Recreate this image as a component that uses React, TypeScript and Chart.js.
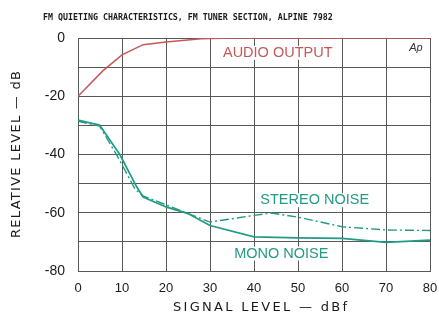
import React, { useEffect, useRef } from 'react';
import { Chart, registerables } from 'chart.js';

Chart.register(...registerables);

// ---- text ----
const chartTitle = 'FM QUIETING CHARACTERISTICS, FM TUNER SECTION, ALPINE 7982';
const xAxisTitle = 'SIGNAL LEVEL — dBf';
const yAxisTitle = 'RELATIVE LEVEL — dB';

// ---- tick values ----
const xTicks = [0, 10, 20, 30, 40, 50, 60, 70, 80];
const yTickLabels = [0, -20, -40, -60, -80];

// ---- series (signal level dBf -> relative level dB) ----
const audioX = [0, 5.7, 10, 14.8, 20, 28, 35, 80];
const audioY = [-20, -11.2, -5.8, -2.3, -1.4, -0.3, 0, 0];

const monoX = [0, 4.9, 9.5, 13.3, 14.8, 20, 25, 30, 40, 50, 60, 70, 80];
const monoY = [-28.2, -29.9, -40, -51, -54.6, -58, -60.3, -64.4, -68.3, -68.6, -68.8, -70.2, -69.4];

const stereoX = [0, 4.9, 9.3, 13, 14.8, 20, 30, 40, 44, 50, 60, 70, 80];
const stereoY = [-28.6, -30.2, -41.5, -52, -54.2, -57.3, -63.2, -60.9, -60.1, -61.5, -64.8, -65.9, -66.1];

// ---- in-chart labels ----
const labelTexts = ['AUDIO OUTPUT', 'STEREO NOISE', 'MONO NOISE'];
const labelAt = [
  { x: 45.4, y: -5.1 },
  { x: 53.8, y: -55.7 },
  { x: 46.2, y: -74 },
];

const RED = '#c4585a';
const TEAL = '#239a82';
const GRID = '#555a55';
const TEXT = '#1a1a1a';

const toPts = (xs: number[], ys: number[]) => xs.map((x, i) => ({ x, y: ys[i] }));

function spacedText(ctx: CanvasRenderingContext2D, text: string, cx: number, cy: number, targetW: number) {
  (ctx as any).letterSpacing = '0px';
  const w = ctx.measureText(text).width;
  const n = text.length;
  const sp = Math.max(0, (targetW - w) / (n - 1));
  (ctx as any).letterSpacing = sp + 'px';
  const w2 = ctx.measureText(text).width;
  ctx.textAlign = 'left';
  ctx.textBaseline = 'middle';
  ctx.fillText(text, cx - (w2 - sp) / 2, cy);
  (ctx as any).letterSpacing = '0px';
}

const overlay = {
  id: 'overlay',
  beforeDatasetsDraw(chart: any) {
    const { ctx, scales } = chart;
    const xs = scales.x;
    const ys = scales.y;
    ctx.save();
    ctx.font = '14.5px "Liberation Sans", Arial, sans-serif';
    ctx.textAlign = 'center';
    ctx.textBaseline = 'middle';
    labelTexts.forEach((t, i) => {
      const px = xs.getPixelForValue(labelAt[i].x);
      const py = ys.getPixelForValue(labelAt[i].y);
      const w = ctx.measureText(t).width;
      ctx.fillStyle = '#ffffff';
      ctx.fillRect(px - w / 2 - 3, py - 7, w + 6, 14);
      ctx.fillStyle = i === 0 ? RED : TEAL;
      ctx.fillText(t, px, py);
    });
    // Ap logo
    ctx.font = 'italic 11px "Liberation Sans", Arial, sans-serif';
    ctx.fillStyle = '#333';
    ctx.fillText('Ap', xs.getPixelForValue(76.8), ys.getPixelForValue(-3.3));
    ctx.restore();
  },
  afterDraw(chart: any) {
    const { ctx, chartArea } = chart;
    ctx.save();
    ctx.fillStyle = TEXT;
    // chart title
    ctx.font = 'bold 8.3px "DejaVu Sans Mono", monospace';
    ctx.textAlign = 'left';
    ctx.textBaseline = 'middle';
    ctx.fillText(chartTitle, 43, 18);
    // x axis title
    ctx.font = '13px "DejaVu Sans", sans-serif';
    spacedText(ctx, xAxisTitle, 260, 308, 174);
    // y axis title
    ctx.save();
    ctx.translate(17, (chartArea.top + chartArea.bottom) / 2);
    ctx.rotate(-Math.PI / 2);
    spacedText(ctx, yAxisTitle, 0, 0, 167);
    ctx.restore();
    ctx.restore();
  },
};

export default function App() {
  const ref = useRef<HTMLCanvasElement | null>(null);
  useEffect(() => {
    if (!ref.current) return;
    const chart = new Chart(ref.current, {
      type: 'line',
      data: {
        datasets: [
          {
            label: 'Audio output',
            data: toPts(audioX, audioY),
            borderColor: RED,
            borderWidth: 1.5,
            pointRadius: 0,
            tension: 0,
          },
          {
            label: 'Stereo noise',
            data: toPts(stereoX, stereoY),
            borderColor: TEAL,
            borderWidth: 1.4,
            borderDash: [9, 3, 2, 3],
            pointRadius: 0,
            tension: 0,
          },
          {
            label: 'Mono noise',
            data: toPts(monoX, monoY),
            borderColor: TEAL,
            borderWidth: 1.7,
            pointRadius: 0,
            tension: 0,
          },
        ],
      },
      options: {
        animation: false,
        responsive: true,
        maintainAspectRatio: false,
        layout: { padding: { top: 38, right: 9, left: 0, bottom: 0 } },
        plugins: {
          legend: { display: false },
          tooltip: { enabled: false },
          title: { display: false },
        },
        scales: {
          x: {
            type: 'linear',
            min: 0,
            max: 80,
            afterFit: (s: any) => { s.height = 52; s.paddingLeft = 0; s.paddingRight = 0; },
            afterBuildTicks: (s: any) => { s.ticks = xTicks.map((v) => ({ value: v })); },
            ticks: {
              color: TEXT,
              font: { family: '"Liberation Sans", Arial, sans-serif', size: 13 },
              padding: 10,
              maxRotation: 0,
            },
            grid: { color: GRID, lineWidth: 1, drawTicks: false },
            border: { color: GRID, width: 1 },
          },
          y: {
            type: 'linear',
            min: -80,
            max: 0,
            afterFit: (s: any) => { s.width = 78; s.paddingTop = 0; s.paddingBottom = 0; },
            ticks: {
              stepSize: 10,
              color: TEXT,
              font: { family: '"Liberation Sans", Arial, sans-serif', size: 14 },
              padding: 13,
              callback: (v: any) => (yTickLabels.includes(Number(v)) ? String(v) : ''),
            },
            grid: { color: GRID, lineWidth: 1, drawTicks: false },
            border: { color: GRID, width: 1 },
          },
        },
      },
      plugins: [overlay],
    });
    return () => chart.destroy();
  }, []);
  return (
    <div style={{ position: 'fixed', left: 0, top: 0, width: 439, height: 323, background: '#fff' }}>
      <canvas ref={ref} />
    </div>
  );
}
